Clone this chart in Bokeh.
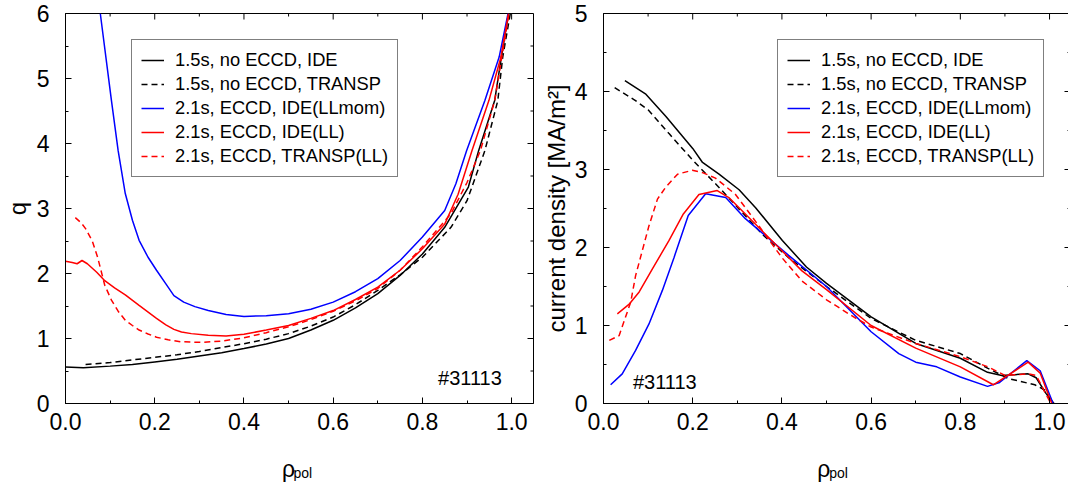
import math
from bokeh.plotting import figure
from bokeh.models import Range1d, FixedTicker, LinearAxis, Legend, LegendItem, Label, NumeralTickFormatter
from bokeh.layouts import row, column
from bokeh.embed import file_html
from bokeh.resources import INLINE

FONT = "Liberation Sans"

# ---------------- left panel: safety factor q ----------------
q_ide15_x = [0.0, 0.04, 0.1, 0.15, 0.2, 0.25, 0.3, 0.35, 0.4, 0.45, 0.5, 0.55, 0.6, 0.65, 0.7, 0.75, 0.8, 0.85, 0.903, 0.926, 0.962, 0.977, 0.993]
q_ide15 = [0.56, 0.55, 0.575, 0.60, 0.64, 0.68, 0.73, 0.78, 0.845, 0.915, 1.0, 1.13, 1.28, 1.47, 1.69, 1.97, 2.30, 2.71, 3.33, 3.89, 4.66, 5.33, 6.0]

q_tr15_x = [0.045, 0.1, 0.15, 0.2, 0.25, 0.3, 0.35, 0.4, 0.45, 0.5, 0.55, 0.6, 0.65, 0.7, 0.75, 0.8, 0.864, 0.9, 0.94, 0.969, 0.98, 0.997]
q_tr15 = [0.60, 0.63, 0.67, 0.71, 0.75, 0.80, 0.86, 0.92, 0.99, 1.075, 1.19, 1.33, 1.52, 1.74, 1.98, 2.25, 2.71, 3.12, 3.89, 4.66, 5.33, 6.0]

q_llmom_x = [0.078, 0.103, 0.118, 0.134, 0.15, 0.165, 0.185, 0.204, 0.225, 0.243, 0.265, 0.29, 0.32, 0.36, 0.4, 0.45, 0.5, 0.55, 0.6, 0.65, 0.7, 0.75, 0.8, 0.85, 0.875, 0.899, 0.94, 0.972, 0.992]
q_llmom = [6.0, 4.66, 3.89, 3.23, 2.82, 2.51, 2.25, 2.05, 1.84, 1.66, 1.56, 1.49, 1.43, 1.37, 1.34, 1.35, 1.38, 1.45, 1.56, 1.72, 1.92, 2.2, 2.56, 2.97, 3.38, 3.89, 4.66, 5.33, 6.0]

q_ll_x = [0.0, 0.015, 0.026, 0.037, 0.049, 0.07, 0.088, 0.11, 0.134, 0.165, 0.204, 0.225, 0.243, 0.26, 0.282, 0.32, 0.36, 0.4, 0.45, 0.5, 0.55, 0.6, 0.65, 0.7, 0.75, 0.8, 0.85, 0.88, 0.911, 0.949, 0.976, 0.993]
q_ll = [2.19, 2.17, 2.15, 2.2, 2.15, 2.02, 1.89, 1.78, 1.67, 1.51, 1.31, 1.21, 1.14, 1.10, 1.075, 1.05, 1.04, 1.065, 1.13, 1.2, 1.31, 1.43, 1.6, 1.79, 2.05, 2.38, 2.76, 3.22, 3.89, 4.66, 5.33, 6.0]

q_trll_x = [0.022, 0.035, 0.045, 0.06, 0.072, 0.088, 0.103, 0.118, 0.134, 0.15, 0.165, 0.185, 0.204, 0.23, 0.259, 0.305, 0.35, 0.4, 0.45, 0.5, 0.55, 0.6, 0.65, 0.7, 0.75, 0.8, 0.864, 0.9, 0.93, 0.962, 0.978, 0.994]
q_trll = [2.86, 2.78, 2.69, 2.5, 2.25, 1.82, 1.59, 1.42, 1.28, 1.2, 1.13, 1.07, 1.02, 0.98, 0.95, 0.94, 0.96, 1.01, 1.09, 1.18, 1.29, 1.42, 1.58, 1.77, 2.05, 2.41, 2.92, 3.4, 3.89, 4.66, 5.33, 6.0]

# ---------------- right panel: current density ----------------
j_ide15_x = [0.048, 0.094, 0.14, 0.2, 0.222, 0.259, 0.304, 0.341, 0.401, 0.455, 0.5, 0.6, 0.7, 0.8, 0.861, 0.893, 0.952, 0.97, 0.992, 1.01]
j_ide15 = [4.14, 3.97, 3.68, 3.27, 3.09, 2.94, 2.74, 2.51, 2.09, 1.75, 1.54, 1.11, 0.77, 0.58, 0.40, 0.36, 0.38, 0.33, 0.13, 0.0]

j_tr15_x = [0.025, 0.07, 0.101, 0.147, 0.2, 0.259, 0.311, 0.356, 0.415, 0.5, 0.6, 0.7, 0.8, 0.862, 0.908, 0.967, 0.99, 1.005]
j_tr15 = [4.05, 3.89, 3.76, 3.46, 3.12, 2.77, 2.45, 2.17, 1.87, 1.5, 1.09, 0.81, 0.64, 0.45, 0.32, 0.24, 0.17, 0.0]

j_llmom_x = [0.016, 0.042, 0.072, 0.102, 0.132, 0.158, 0.19, 0.229, 0.274, 0.318, 0.415, 0.5, 0.6, 0.662, 0.7, 0.747, 0.8, 0.861, 0.888, 0.949, 0.979, 1.008]
j_llmom = [0.24, 0.38, 0.68, 1.02, 1.45, 1.87, 2.41, 2.69, 2.64, 2.37, 1.90, 1.5, 0.92, 0.64, 0.53, 0.47, 0.34, 0.22, 0.27, 0.55, 0.42, 0.0]

j_ll_x = [0.031, 0.057, 0.08, 0.11, 0.147, 0.179, 0.214, 0.255, 0.281, 0.318, 0.445, 0.5, 0.6, 0.7, 0.8, 0.874, 0.952, 0.979, 1.005]
j_ll = [1.15, 1.27, 1.43, 1.73, 2.09, 2.43, 2.68, 2.73, 2.64, 2.43, 1.7, 1.46, 1.0, 0.71, 0.47, 0.24, 0.53, 0.39, 0.0]

j_trll_x = [0.013, 0.035, 0.061, 0.072, 0.087, 0.102, 0.121, 0.139, 0.166, 0.199, 0.222, 0.251, 0.296, 0.348, 0.4, 0.445, 0.5, 0.555, 0.6, 0.7, 0.8, 0.862, 0.9, 0.952, 0.97, 1.003]
j_trll = [0.81, 0.87, 1.30, 1.64, 1.96, 2.28, 2.62, 2.77, 2.94, 2.99, 2.96, 2.89, 2.68, 2.28, 1.87, 1.57, 1.33, 1.13, 0.98, 0.77, 0.6, 0.47, 0.36, 0.38, 0.36, 0.0]

legend_labels = ["1.5s, no ECCD, IDE", "1.5s, no ECCD, TRANSP", "2.1s, ECCD, IDE(LLmom)",
                 "2.1s, ECCD, IDE(LL)", "2.1s, ECCD, TRANSP(LL)"]
x_ticks = [0.0, 0.2, 0.4, 0.6, 0.8, 1.0]
x_minor = [0.1, 0.3, 0.5, 0.7, 0.9]
shot_label = "#31113"
x_label_main = "ρ"
x_label_sub = "pol"

styles = [("black", "solid"), ("black", "6 4"), ("blue", "solid"), ("red", "solid"), ("red", "6 4")]

STRIP_H = 32


def style_axis(ax):
    ax.major_tick_in = 6
    ax.major_tick_out = 0
    ax.minor_tick_in = 3
    ax.minor_tick_out = 0
    ax.axis_line_color = "black"
    ax.major_tick_line_color = "black"
    ax.minor_tick_line_color = "black"
    ax.major_label_text_font = FONT
    ax.major_label_text_font_size = "23px"
    ax.major_label_text_color = "black"
    ax.axis_label_text_font = FONT
    ax.axis_label_text_font_size = "24px"
    ax.axis_label_text_font_style = "normal"
    ax.axis_label_text_color = "black"


def make_panel(xs, ys, ymax, ylabel, frame_w, xend, bl, br, legend_x, shot_xy, ylabel_standoff, rho_x, sub_dx):
    p = figure(frame_width=frame_w, frame_height=390, min_border_left=bl, min_border_right=br,
               min_border_top=13, min_border_bottom=482 - 403 - STRIP_H, output_backend="svg",
               toolbar_location=None,
               x_range=Range1d(0, xend), y_range=Range1d(0, ymax), x_axis_type=None, y_axis_type=None)
    p.outline_line_color = "black"
    p.outline_line_width = 1
    p.xgrid.visible = False
    p.ygrid.visible = False
    p.background_fill_color = "white"
    p.border_fill_color = "white"

    y_ticks = list(range(0, ymax + 1))
    y_minor = [i + 0.5 for i in range(ymax)]
    xt = FixedTicker(ticks=x_ticks, minor_ticks=x_minor)
    yt = FixedTicker(ticks=y_ticks, minor_ticks=y_minor)
    xb = LinearAxis(ticker=xt, formatter=NumeralTickFormatter(format="0.0"))
    yl = LinearAxis(ticker=yt, formatter=NumeralTickFormatter(format="0"), axis_label=ylabel)
    style_axis(xb)
    style_axis(yl)
    xb.major_label_standoff = 9
    yl.major_label_standoff = 16
    yl.axis_label_standoff = ylabel_standoff
    p.add_layout(xb, "below")
    p.add_layout(yl, "left")

    # mirrored inward ticks on the top and right frame edges
    p.ray(x=x_ticks, y=[ymax] * len(x_ticks), length=6, length_units="screen", angle=-math.pi / 2,
          line_color="black", line_width=1)
    p.ray(x=x_minor, y=[ymax] * len(x_minor), length=3, length_units="screen", angle=-math.pi / 2,
          line_color="black", line_width=1)
    p.ray(x=[xend] * len(y_ticks), y=y_ticks, length=6, length_units="screen", angle=math.pi,
          line_color="black", line_width=1)
    p.ray(x=[xend] * len(y_minor), y=y_minor, length=3, length_units="screen", angle=math.pi,
          line_color="black", line_width=1)

    items = []
    for (x, y), (c, d), lab in zip(zip(xs, ys), styles, legend_labels):
        r = p.line(x, y, line_color=c, line_dash=d, line_width=1.5)
        items.append(LegendItem(label=lab, renderers=[r]))
    leg = Legend(items=items, location=(legend_x, 226))
    leg.border_line_color = "black"
    leg.border_line_width = 1
    leg.background_fill_color = "white"
    leg.background_fill_alpha = 1
    leg.label_text_font = FONT
    leg.label_text_font_size = "18.3px"
    leg.label_text_color = "black"
    leg.glyph_width = 23
    leg.glyph_height = 20
    leg.label_height = 20
    leg.label_standoff = 11
    leg.spacing = 2
    leg.padding = 9
    leg.margin = 0
    p.add_layout(leg)

    p.add_layout(Label(x=shot_xy[0], y=shot_xy[1], text=shot_label, text_font=FONT,
                       text_font_size="20px", text_color="black", text_baseline="alphabetic"))

    # strip below the panel carrying the x-axis title rho_pol
    s = figure(frame_width=frame_w, frame_height=STRIP_H, min_border_left=bl, min_border_right=br,
               min_border_top=0, min_border_bottom=0, output_backend="svg", toolbar_location=None,
               x_range=p.x_range, y_range=Range1d(0, STRIP_H), x_axis_type=None, y_axis_type=None)
    s.outline_line_color = None
    s.xgrid.visible = False
    s.ygrid.visible = False
    s.background_fill_color = "white"
    s.border_fill_color = "white"
    s.add_layout(Label(x=rho_x, y=14, text=x_label_main, text_font=FONT,
                       text_font_size="23px", text_color="black", text_baseline="alphabetic"))
    s.add_layout(Label(x=rho_x + sub_dx, y=10, text=x_label_sub, text_font=FONT,
                       text_font_size="14px", text_color="black", text_baseline="alphabetic"))
    return column(p, s, spacing=0)


left = make_panel([q_ide15_x, q_tr15_x, q_llmom_x, q_ll_x, q_trll_x],
                  [q_ide15, q_tr15, q_llmom, q_ll, q_trll], 6, "q",
                  468, 1.049, 64, 6, 66, (0.835, 0.39), 3, 0.485, 0.026)
right = make_panel([j_ide15_x, j_tr15_x, j_llmom_x, j_ll_x, j_trll_x],
                   [j_ide15, j_tr15, j_llmom, j_ll, j_trll], 5, "current density [MA/m²]",
                   467, 1.047, 63, 0, 174, (0.066, 0.27), 2, 0.479, 0.027)

layout = row(left, right, spacing=0)
open("out.html", "w").write(file_html(layout, INLINE))
